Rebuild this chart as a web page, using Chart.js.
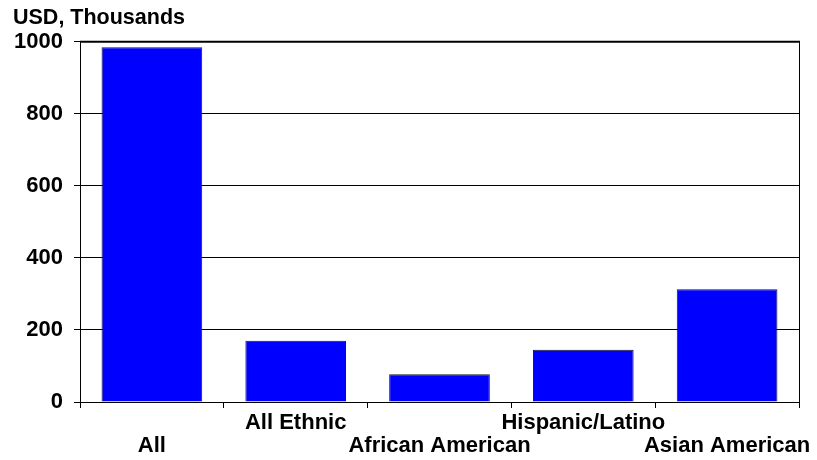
<!DOCTYPE html>
<html>
<head>
<meta charset="utf-8">
<script src="https://cdn.jsdelivr.net/npm/chart.js@4"></script>
<style>
  html, body { margin: 0; padding: 0; background: #fff; }
  #wrap { width: 817px; height: 460px; }
</style>
</head>
<body>
<div id="wrap"><canvas id="incomeChart"></canvas></div>
<script>
const categories = ['All', 'All Ethnic', 'African American', 'Hispanic/Latino', 'Asian American'];
const values = [985, 170, 77, 145, 313];
const yTicks = [0, 200, 400, 600, 800, 1000];

const font = 'Liberation Sans, Arial, Helvetica, sans-serif';

// closes the plot box on the right side
const frame = {
  id: 'frame',
  afterDraw(chart) {
    const { ctx, chartArea: a } = chart;
    ctx.save();
    ctx.strokeStyle = '#000';
    ctx.lineWidth = 1;
    ctx.beginPath();
    ctx.moveTo(a.right + 0.5, a.top);
    ctx.lineTo(a.right + 0.5, a.bottom);
    ctx.stroke();
    ctx.lineWidth = 2;
    ctx.beginPath();
    ctx.moveTo(a.left, a.top);
    ctx.lineTo(a.right + 1, a.top);
    ctx.stroke();
    ctx.restore();
  }
};

new Chart(document.getElementById('incomeChart'), {
  type: 'bar',
  data: {
    labels: categories,
    datasets: [{
      data: values,
      backgroundColor: '#0000ff',
      borderColor: '#1a1a1a',
      borderWidth: 1,
      barPercentage: 0.7,
      categoryPercentage: 1
    }]
  },
  options: {
    responsive: true,
    maintainAspectRatio: false,
    animation: false,
    layout: { padding: { left: 13, right: 18, top: 0, bottom: 0 } },
    plugins: {
      legend: { display: false },
      tooltip: { enabled: false },
      title: {
        display: true,
        text: 'USD, Thousands',
        align: 'start',
        color: '#000',
        font: { family: font, size: 21.5, weight: 'bold' },
        padding: { top: 5, bottom: 11 }
      }
    },
    scales: {
      x: {
        afterFit: (s) => { s.height = 58; },
        border: { color: '#000', width: 1 },
        grid: { offset: true, drawOnChartArea: false, tickLength: 6, color: '#000' },
        ticks: {
          autoSkip: false,
          maxRotation: 0,
          minRotation: 0,
          padding: 3,
          color: '#000',
          font: { family: font, size: 22, weight: 'bold', lineHeight: 1.07 },
          // alternate labels between two rows
          callback: function (v, i) {
            const label = this.getLabelForValue(v);
            return i % 2 === 0 ? ['', label] : label;
          }
        }
      },
      y: {
        min: 0,
        max: 1000,
        afterFit: (s) => { s.width = 67; },
        afterBuildTicks: (s) => { s.ticks = yTicks.map(v => ({ value: v })); },
        border: { color: '#000', width: 1 },
        grid: { color: '#000', lineWidth: 1, tickLength: 6 },
        ticks: {
          padding: 11,
          color: '#000',
          font: { family: font, size: 22, weight: 'bold' },
          callback: (v) => String(v)
        }
      }
    }
  },
  plugins: [frame]
});
</script>
</body>
</html>
